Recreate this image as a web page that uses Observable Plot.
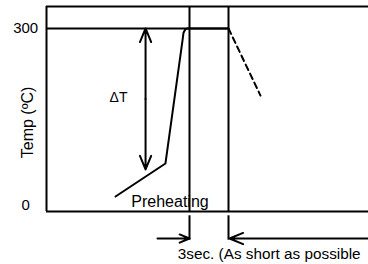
<!DOCTYPE html>
<html>
<head>
<meta charset="utf-8">
<script src="https://cdn.jsdelivr.net/npm/d3@7"></script>
<script src="https://cdn.jsdelivr.net/npm/@observablehq/plot@0.6"></script>
<style>
  html, body { margin: 0; padding: 0; background: #fff; overflow: hidden; }
  svg { display: block; font-family: "Liberation Sans", Arial, sans-serif; }
</style>
</head>
<body>
<div id="chart"></div>
<script>
// time (s) and temperature (ºC) of the soldering profile
const heatTime = [5.31, 9.15, 10.46, 10.54, 10.69, 10.85, 14.0];
const heatTemp = [24.6, 78.7, 280, 293, 299.2, 300, 300];
const coolTime = [14.0, 16.46];
const coolTemp = [300, 190];
const yTicks = [0, 300];
const yTickLabels = ["0", "300"];
const peakTemp = 300;
const deltaBottom = 69;
const deltaTime = 7.62;
const windowStart = 11;
const windowEnd = 14;
const labels = {
  y: "Temp (ºC)",
  delta: "ΔT",
  preheat: "Preheating",
  duration: "3sec. (As short as possible"
};

const xMax = 322 / 13;
const yMax = 336;
const heat = heatTime.map((t, i) => ({t, v: heatTemp[i]}));
const cool = coolTime.map((t, i) => ({t, v: coolTemp[i]}));
const deltaMid = (peakTemp + deltaBottom) / 2;
const arrowY = -44.3;

const chart = Plot.plot({
  width: 368,
  height: 264,
  marginLeft: 46,
  marginRight: 0,
  marginTop: 6,
  marginBottom: 53,
  style: {fontFamily: "'Liberation Sans', Arial, sans-serif", color: "#000"},
  x: {domain: [0, xMax], axis: null},
  y: {domain: [0, yMax], axis: null},
  marks: [
    // frame
    Plot.ruleY([0, yMax], {x1: 0, x2: xMax, stroke: "#000", strokeWidth: 2}),
    Plot.ruleX([0], {y1: 0, y2: yMax, stroke: "#000", strokeWidth: 2}),
    // 300 line
    Plot.ruleY([peakTemp], {x1: 0, x2: windowEnd, stroke: "#000", strokeWidth: 2}),
    // window verticals
    Plot.ruleX([windowStart, windowEnd], {y1: 0, y2: yMax, stroke: "#000", strokeWidth: 2}),
    Plot.ruleX([windowStart, windowEnd], {y1: -7, y2: -47, stroke: "#000", strokeWidth: 2}),
    // profile
    Plot.line(heat, {x: "t", y: "v", stroke: "#000", strokeWidth: 2}),
    Plot.line(cool, {x: "t", y: "v", stroke: "#000", strokeWidth: 2, strokeDasharray: "6,4"}),
    // delta T double arrow
    Plot.arrow([{a: deltaMid, b: peakTemp}, {a: deltaMid, b: deltaBottom}], {
      x1: deltaTime, x2: deltaTime, y1: "a", y2: "b",
      stroke: "#000", strokeWidth: 2, headLength: 11, headAngle: 45, inset: 0
    }),
    // duration arrows
    Plot.arrow([{a: 8.54, b: windowStart}, {a: xMax, b: 14.08}], {
      x1: "a", x2: "b", y1: arrowY, y2: arrowY,
      stroke: "#000", strokeWidth: 2, headLength: 11, headAngle: 45, inset: 0
    }),
    // tick labels
    Plot.text([yTicks[1]], {x: -1.6, y: d => d, text: () => yTickLabels[1], fontSize: 15, fill: "#000"}),
    Plot.text([yTicks[0]], {x: -1.6, y: d => d, dy: -6, text: () => yTickLabels[0], fontSize: 15, fill: "#000"}),
    // y label
    Plot.text([labels.y], {x: -1.42, y: 146, text: d => d, rotate: -90, fontSize: 16, fill: "#000"}),
    Plot.text([labels.delta], {x: 5.54, y: 187, text: d => d, fontSize: 14, fill: "#000"}),
    Plot.text([labels.preheat], {x: 9.5, y: 16.4, text: d => d, fontSize: 16, fill: "#000"}),
    Plot.text([labels.duration], {x: 10.1, y: -70.5, text: d => d, textAnchor: "start", fontSize: 15.3, fill: "#000"})
  ]
});
document.getElementById("chart").appendChild(chart);
</script>
</body>
</html>
